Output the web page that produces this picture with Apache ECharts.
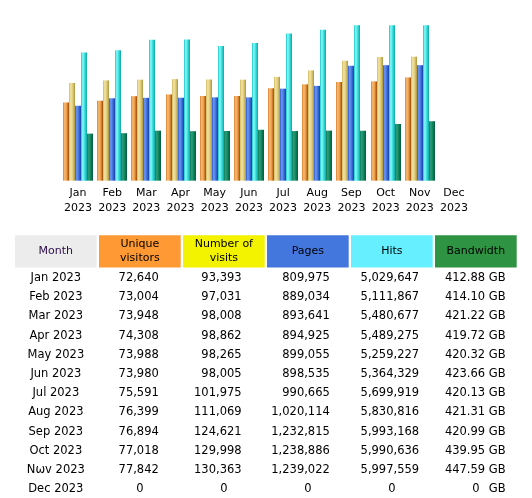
<!DOCTYPE html>
<html>
<head>
<meta charset="utf-8">
<script src="https://cdn.jsdelivr.net/npm/echarts@6/dist/echarts.min.js"></script>
<style>html,body{margin:0;padding:0;background:#fff}#c{width:532px;height:498px}</style>
</head>
<body>
<div id="c"></div>
<script>
// ---- data ----
const months = ['Jan','Feb','Mar','Apr','May','Jun','Jul','Aug','Sep','Oct','Nov','Dec'];
const year = '2023';
const tableMonths = ['Jan 2023','Feb 2023','Mar 2023','Apr 2023','May 2023','Jun 2023','Jul 2023','Aug 2023','Sep 2023','Oct 2023','Nωv 2023','Dec 2023'];
const uniqueVisitors = [72640,73004,73948,74308,73988,73980,75591,76399,76894,77018,77842,0];
const numberOfVisits = [93393,97031,98008,98862,98265,98005,101975,111069,124621,129998,130363,0];
const pages = [809975,889034,893641,894925,899055,898535,990665,1020114,1232815,1238886,1239022,0];
const hits = [5029647,5111867,5480677,5489275,5259227,5364329,5699919,5830816,5993168,5990636,5997559,0];
const bandwidthGB = [412.88,414.10,421.22,419.72,420.32,423.66,420.13,421.31,420.99,439.95,447.59,0];
const headers = ['Month','Unique\nvisitors','Number of\nvisits','Pages','Hits','Bandwidth'];

// ---- styling / layout ----
const FONT = 'DejaVu Sans';
const headerColors = ['#ECECEC','#FF9933','#F3F300','#4477DD','#66F0FF','#2E9443'];
const axisRanges = [
  [56396, 88934],
  [-43940, 176300],
  [18400, 1674100],
  [483600, 6038500],
  [281.3, 719.6]
];
const grads = [
  [[0,'#D8822C'],[0.3,'#F8BC78'],[0.65,'#E8963E'],[0.85,'#B8641A'],[1,'#9C5008']],
  [[0,'#D0BA60'],[0.3,'#F2E4A4'],[0.65,'#DCC878'],[1,'#AC9438']],
  [[0,'#2E5CCC'],[0.3,'#6E9AF2'],[0.65,'#3C6CDA'],[1,'#1840A4']],
  [[0,'#1CC4C4'],[0.3,'#88FAFA'],[0.65,'#34DADA'],[1,'#0EA4A4']],
  [[0,'#0E7E5C'],[0.3,'#2E9E7C'],[0.65,'#0E8058'],[1,'#005C3C']]
];
const seriesData = [uniqueVisitors, numberOfVisits, pages, hits, bandwidthGB];
const BW = 6;

function mkGrad(stops){
  return new echarts.graphic.LinearGradient(0,0,1,0, stops.map(s=>({offset:s[0], color:s[1]})));
}

const series = seriesData.map((arr, si) => ({
  type: 'custom',
  coordinateSystem: 'cartesian2d',
  yAxisIndex: si,
  silent: true,
  data: arr.map((v, i) => [i, v]),
  encode: {x: 0, y: 1},
  renderItem: function(params, api){
    const val = api.value(1);
    if (!val) return null;
    const p = api.coord([api.value(0), val]);
    const cs = params.coordSys;
    const bottom = cs.y + cs.height;
    const x = Math.round(p[0] + (si - 2) * BW - BW / 2);
    return {type:'rect', shape:{x:x, y:p[1], width:BW, height:bottom - p[1]}, style:{fill: mkGrad(grads[si])}};
  }
}));

const yAxes = axisRanges.map(r => ({type:'value', show:false, min:r[0], max:r[1]}));

// ---- table (graphic) ----
const colLeft0 = 15, colStep = 84, colW = 81.7;
const headTop = 235.2, headH = 32.2;
const rowY0 = 278, rowStep = 19.2;
const rightEdges = [158.8, 241.6, 329.8, 419.1, 505.6];
const gfx = [];
headers.forEach((h, c) => {
  const left = colLeft0 + c * colStep;
  gfx.push({type:'rect', shape:{x:left, y:headTop, width:colW, height:headH}, style:{fill:headerColors[c]}, silent:true});
  gfx.push({type:'text', style:{text:h, x:left + colW/2, y:headTop + headH/2, align:'center', verticalAlign:'middle',
    font:'11px "' + FONT + '"', lineHeight:14.5, fill: c === 0 ? '#2C0C4C' : '#000'}, silent:true});
});
const fmtInt = v => v.toLocaleString('en-US');
tableMonths.forEach((m, r) => {
  const y = rowY0 + r * rowStep;
  const base = {verticalAlign:'middle', font:'11.5px "' + FONT + '"', fill:'#000'};
  gfx.push({type:'text', style:Object.assign({text:m, x:colLeft0 + colW/2, y:y, align:'center'}, base), silent:true});
  seriesData.forEach((arr, si) => {
    const c = si + 1;
    const center = colLeft0 + c * colStep + colW/2;
    const v = arr[r];
    if (si === 4) {
      if (v === 0) {
        gfx.push({type:'text', style:Object.assign({text:'0', x:center, y:y, align:'center'}, base), silent:true});
        gfx.push({type:'text', style:Object.assign({text:'GB', x:rightEdges[si], y:y, align:'right'}, base), silent:true});
      } else {
        gfx.push({type:'text', style:Object.assign({text:v.toFixed(2) + ' GB', x:rightEdges[si], y:y, align:'right'}, base), silent:true});
      }
    } else if (v === 0) {
      gfx.push({type:'text', style:Object.assign({text:'0', x:center, y:y, align:'center'}, base), silent:true});
    } else {
      gfx.push({type:'text', style:Object.assign({text:fmtInt(v), x:rightEdges[si], y:y, align:'right'}, base), silent:true});
    }
  });
});

const chart = echarts.init(document.getElementById('c'), null, {renderer:'canvas'});
chart.setOption({
  animation: false,
  backgroundColor: '#fff',
  grid: {left: 60.9, right: 60.9, top: 24, bottom: 317.33, containLabel: false},
  xAxis: {
    type: 'category', data: months,
    axisLine: {show:false}, axisTick: {show:false}, splitLine: {show:false},
    axisLabel: {interval:0, formatter: v => v + '\n' + year, fontFamily: FONT, fontSize: 11, color:'#000', lineHeight: 15, margin: 5}
  },
  yAxis: yAxes,
  series: series,
  graphic: gfx
});
</script>
</body>
</html>
